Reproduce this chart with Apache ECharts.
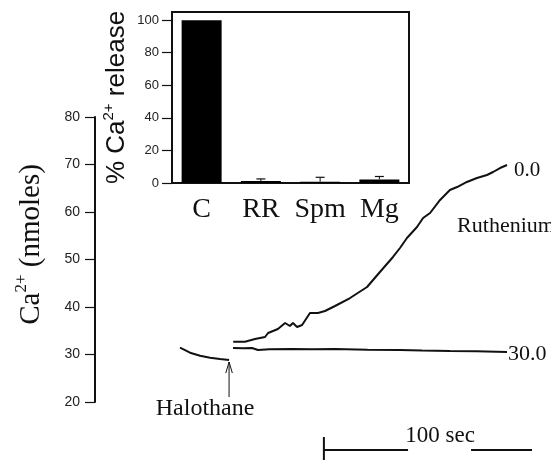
<!DOCTYPE html>
<html><head><meta charset="utf-8">
<script src="https://cdn.jsdelivr.net/npm/echarts@6/dist/echarts.min.js"></script>
<style>html,body{margin:0;padding:0;background:#fff}#c{width:551px;height:460px}</style>
</head><body><div id="c"></div>
<script>
// Inset bar chart data
const categories = ['C', 'RR', 'Spm', 'Mg'];
const releaseValues = [100, 1.2, 0.8, 2.2];
const releaseErrors = [0, 1.3, 2.7, 1.8];

// Main traces: [time (s), Ca2+ (nmoles)]
const preHalothane = [[39.0,31.43],[43.6,30.38],[48.2,29.75],[52.8,29.33],[57.3,29.05],[61.5,28.84]];
const traceRR0 = [[63.4,32.69],[68.8,32.69],[73.4,33.26],[78.0,33.68],[79.4,34.53],[83.9,35.37],[87.2,36.63],[89.4,36.0],[90.8,36.63],[92.7,35.79],[95.0,36.21],[98.6,38.74],[102.3,38.74],[105.5,39.16],[110.1,40.21],[117.0,41.89],[124.8,44.21],[130.7,47.37],[136.7,50.53],[139.9,52.42],[143.1,54.53],[147.7,56.84],[150.5,58.74],[153.7,59.79],[158.3,62.53],[162.8,64.63],[166.1,65.26],[170.6,66.32],[175.2,67.16],[179.8,67.79],[182.6,68.42],[185.8,69.26],[189.0,69.89]];
const traceRR30 = [[63.3,31.37],[68.0,31.3],[72.0,31.37],[74.8,30.95],[80.0,31.1],[90.4,31.16],[100.0,31.1],[110.1,31.16],[125.0,31.0],[139.9,30.95],[150.0,30.85],[162.8,30.74],[175.0,30.7],[189.0,30.53]];
const scaleBarLeft = [[105.0,9.9],[143.6,9.9]];
const scaleBarRight = [[172.5,9.9],[205.0,9.9]];
const scaleTickLeft = [[105.0,12.63],[105.0,7.6]];
const scaleTickRight = [[205.0,12.63],[205.0,8.8]];
const arrowShaft = [[61.5,21.05],[61.5,28.42]];
const arrowHead = [[60.0,26.1],[61.5,28.42],[63.0,26.1]];

const serif = 'Liberation Serif';
const sans = 'Liberation Sans';
const K = '#111';

const chart = echarts.init(document.getElementById('c'));
const lineS = (data, w) => ({type:'line', xAxisIndex:0, yAxisIndex:0, data, showSymbol:false, symbol:'none', clip:false, silent:true, animation:false, lineStyle:{color:K, width:w}});

chart.setOption({
  animation: false,
  grid: [
    {left:95, right:20, top:117, bottom:58, containLabel:false},
    {left:172, right:142, top:12, bottom:277, containLabel:false, show:true, borderColor:K, borderWidth:2, backgroundColor:'transparent'}
  ],
  xAxis: [
    {type:'value', gridIndex:0, min:0, max:200, show:false},
    {type:'category', gridIndex:1, data:categories, axisLine:{lineStyle:{color:K, width:2}}, axisTick:{show:false},
     axisLabel:{fontFamily:serif, fontSize:28, color:K, margin:13, interval:0}}
  ],
  yAxis: [
    {type:'value', gridIndex:0, min:20, max:80, interval:10, splitLine:{show:false},
     axisLine:{show:true, lineStyle:{color:K, width:2}}, axisTick:{show:true, length:10, lineStyle:{color:K, width:1.2}},
     axisLabel:{fontFamily:sans, fontSize:14, color:'#222', margin:15},
     name:'{a|Ca}{s|2+}{a| (nmoles)}', nameLocation:'middle', nameGap:46, nameRotate:90,
     nameTextStyle:{fontFamily:serif, fontSize:29, color:K, padding:[0,0,0,30], rich:{a:{fontFamily:serif, fontSize:29, color:K, lineHeight:36}, s:{fontFamily:serif, fontSize:17, color:K, verticalAlign:'top', lineHeight:36}}}},
    {type:'value', gridIndex:1, min:0, max:105, interval:20, splitLine:{show:false},
     axisLine:{show:true, lineStyle:{color:K, width:2}}, axisTick:{show:true, length:10, lineStyle:{color:K, width:1.2}},
     axisLabel:{fontFamily:sans, fontSize:13, color:'#222', margin:13, showMaxLabel:false},
     name:'{a|% Ca}{s|2+}{a| release}', nameLocation:'middle', nameGap:39, nameRotate:90,
     nameTextStyle:{fontFamily:sans, fontSize:26, color:K, rich:{a:{fontFamily:sans, fontSize:26, color:K, lineHeight:32}, s:{fontFamily:sans, fontSize:15, color:K, verticalAlign:'top', lineHeight:32}}}}
  ],
  series: [
    {type:'bar', xAxisIndex:1, yAxisIndex:1, data:releaseValues, barWidth:40, itemStyle:{color:'#000'}, silent:true},
    {type:'custom', xAxisIndex:1, yAxisIndex:1, z:5, silent:true,
     data: categories.map((c,i)=>[i, releaseValues[i], releaseErrors[i]]),
     renderItem(params, api){
       const e = api.value(2);
       if (!e) return null;
       const base = api.coord([api.value(0), api.value(1)]);
       const top = api.coord([api.value(0), api.value(1)+e]);
       return {type:'group', children:[
         {type:'line', shape:{x1:base[0], y1:base[1], x2:top[0], y2:top[1]}, style:{stroke:K, lineWidth:1}},
         {type:'line', shape:{x1:top[0]-4.5, y1:top[1], x2:top[0]+4.5, y2:top[1]}, style:{stroke:K, lineWidth:1.2}}
       ]};
     }},
    lineS(preHalothane, 2),
    lineS(traceRR0, 2),
    lineS(traceRR30, 2),
    lineS(scaleBarLeft, 2),
    lineS(scaleBarRight, 2),
    lineS(scaleTickLeft, 2),
    lineS(scaleTickRight, 2),
    lineS(arrowShaft, 1),
    lineS(arrowHead, 1),
    {type:'scatter', xAxisIndex:0, yAxisIndex:0, symbolSize:0, clip:false, silent:true,
     itemStyle:{opacity:1, color:K},
     label:{show:true, formatter:'{b}', color:K, fontFamily:serif},
     data:[
       {name:'0.0', value:[192.2,68.84], label:{position:'right', distance:0, fontSize:21}},
       {name:'Ruthenium Red', value:[166.1,57.05], label:{position:'right', distance:0, fontSize:22}},
       {name:'30.0', value:[189.4,30.1], label:{position:'right', distance:0, fontSize:22}},
       {name:'Halothane', value:[50.5,18.53], label:{position:'inside', fontSize:24}},
       {name:'100 sec', value:[158.3,12.84], label:{position:'inside', fontSize:23}}
     ]}
  ]
});
</script></body></html>
